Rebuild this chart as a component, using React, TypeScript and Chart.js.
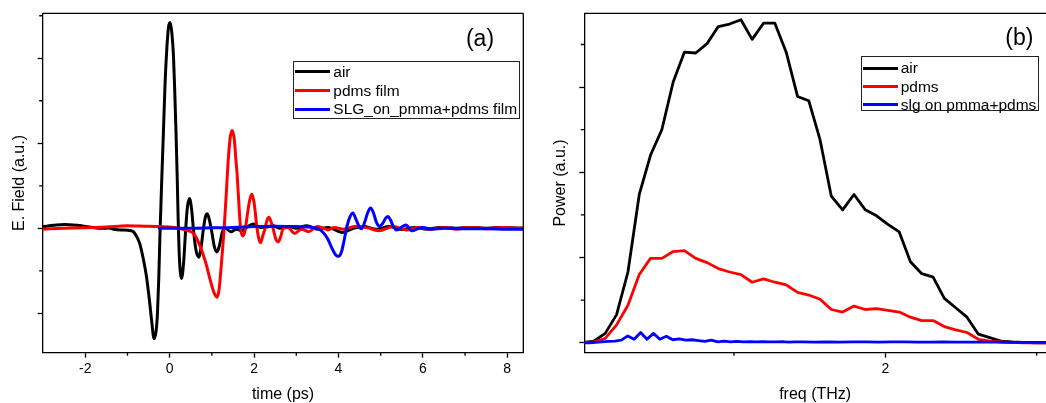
import React, { useEffect, useRef } from 'react';
import { Chart, registerables } from 'chart.js';

Chart.register(...registerables);

const FONT = '"Liberation Sans", Arial, Helvetica, sans-serif';

// ---------- Panel (a): time-domain field ----------
const timeAir = [
  -3.0, -2.75, -2.5, -2.2, -1.9, -1.6, -1.45, -1.3, -1.1, -0.95, -0.85, -0.78, -0.71, -0.63, -0.55,
  -0.48, -0.43, -0.37, -0.32, -0.29, -0.26, -0.23, -0.19, -0.15, -0.11, -0.07, -0.03, 0.01, 0.05,
  0.09, 0.12, 0.15, 0.18, 0.2, 0.23, 0.28, 0.33, 0.38, 0.42, 0.47, 0.52, 0.56, 0.62, 0.69, 0.75,
  0.8, 0.85, 0.89, 0.94, 1.0, 1.06, 1.12, 1.18, 1.25, 1.32, 1.45, 1.58, 1.7, 1.85, 1.99, 2.15, 2.3,
  2.45, 2.6, 2.8, 3.0, 3.25, 3.5, 3.75, 4.1, 4.35, 4.6, 4.9, 5.2, 5.5, 5.8, 6.1, 6.4, 6.8, 7.1, 7.5,
  7.9, 8.4,
];
const fieldAir = [
  0.02, 0.035, 0.045, 0.035, 0.015, 0.0, 0.003, -0.015, -0.02, -0.025, -0.045, -0.1, -0.18, -0.35,
  -0.57, -0.85, -1.08, -1.3, -1.2, -1.0, -0.6, -0.06, 0.55, 1.12, 1.7, 2.1, 2.36, 2.42, 2.3, 2.02,
  1.6, 1.12, 0.55, 0.12, -0.35, -0.59, -0.4, 0.0, 0.25, 0.35, 0.22, 0.0, -0.25, -0.34, -0.2, 0.0,
  0.14, 0.17, 0.1, -0.05, -0.22, -0.28, -0.2, -0.04, 0.0, -0.04, -0.01, -0.03, 0.02, 0.05, 0.01,
  0.015, 0.03, 0.0, 0.02, 0.0, 0.03, -0.01, 0.01, -0.05, 0.0, 0.02, -0.01, 0.02, -0.015, 0.01,
  -0.01, 0.01, 0.0, 0.01, 0.0, 0.01, 0.0,
];

const timePdms = [
  -3.0, -2.5, -2.0, -1.5, -1.0, -0.6, -0.23, 0.1, 0.3, 0.45, 0.56, 0.64, 0.72, 0.8, 0.88, 0.95, 1.0,
  1.06, 1.12, 1.17, 1.22, 1.26, 1.29, 1.34, 1.38, 1.43, 1.48, 1.53, 1.57, 1.6, 1.64, 1.68, 1.73,
  1.78, 1.84, 1.9, 1.95, 2.0, 2.07, 2.11, 2.15, 2.2, 2.26, 2.31, 2.35, 2.4, 2.45, 2.51, 2.57, 2.63,
  2.69, 2.8, 2.96, 3.12, 3.29, 3.5, 3.65, 3.75, 3.9, 4.1, 4.4, 4.7, 4.96, 5.3, 5.62, 5.9, 6.2, 6.5,
  6.8, 7.1, 7.5, 7.9, 8.2, 8.4,
];
const fieldPdms = [
  -0.01, 0.0, 0.005, 0.015, 0.03, 0.025, 0.02, 0.01, -0.01, -0.03, -0.06, -0.12, -0.21, -0.32,
  -0.45, -0.59, -0.68, -0.77, -0.81, -0.72, -0.45, -0.2, 0.0, 0.4, 0.75, 1.05, 1.15, 1.05, 0.8,
  0.62, 0.28, 0.0, -0.09, -0.04, 0.16, 0.34, 0.4, 0.3, 0.0, -0.12, -0.17, -0.1, 0.0, 0.1, 0.13,
  0.08, 0.0, -0.12, -0.16, -0.1, 0.0, 0.01, -0.06, -0.01, -0.04, 0.02, 0.0, -0.02, 0.01, -0.01,
  0.02, 0.005, -0.03, 0.02, -0.02, 0.01, -0.01, 0.01, -0.01, 0.01, -0.005, 0.01, 0.0, 0.005,
];

const timeSlg = [
  -0.25, 0.5, 1.0, 1.5, 2.0, 2.5, 3.0, 3.3, 3.5, 3.62, 3.74, 3.86, 3.93, 4.0, 4.07, 4.13, 4.19,
  4.26, 4.34, 4.42, 4.5, 4.55, 4.62, 4.69, 4.76, 4.83, 4.9, 4.97, 5.05, 5.12, 5.17, 5.23, 5.3,
  5.37, 5.45, 5.6, 5.74, 5.9, 5.99, 6.19, 6.5, 7.0, 7.5, 8.0, 8.4,
];
const fieldSlg = [
  0.0, 0.0, 0.005, 0.01, 0.02, 0.025, 0.02, 0.015, 0.0, -0.04, -0.12, -0.25, -0.31, -0.33, -0.28,
  -0.15, 0.0, 0.12, 0.18, 0.1, 0.01, -0.005, 0.07, 0.18, 0.24, 0.18, 0.07, 0.025, 0.06, 0.12,
  0.14, 0.1, 0.02, -0.02, 0.0, 0.04, -0.03, 0.0, 0.01, -0.01, 0.0, -0.005, -0.005, -0.01, -0.01,
];

const timeMajorTicks = [-2, 0, 2, 4, 6, 8];
const timeMinorTicks = [-1, 1, 3, 5, 7];
const fieldMajorTicks = [-1, 0, 1, 2];
const fieldMinorTicks = [-0.5, 0.5, 1.5, 2.5];

// ---------- Panel (b): power spectra ----------
const freq = [
  0, 0.075, 0.149, 0.224, 0.299, 0.374, 0.448, 0.523, 0.598, 0.672, 0.747, 0.822, 0.896, 0.971,
  1.046, 1.12, 1.195, 1.27, 1.345, 1.42, 1.494, 1.569, 1.643, 1.718, 1.793, 1.868, 1.942, 2.017,
  2.092, 2.166, 2.241, 2.316, 2.39, 2.465, 2.54, 2.615, 2.69, 2.764, 2.839, 2.914, 2.988, 3.063,
];
const powerAir = [
  0, 0.02, 0.11, 0.33, 0.83, 1.74, 2.2, 2.5, 3.06, 3.41, 3.4, 3.51, 3.71, 3.74, 3.79, 3.56, 3.75,
  3.75, 3.41, 2.89, 2.84, 2.38, 1.72, 1.56, 1.74, 1.56, 1.49, 1.39, 1.3, 0.95, 0.81, 0.77, 0.52,
  0.41, 0.3, 0.1, 0.06, 0.02, 0.01, 0.005, 0, 0,
];
const powerPdms = [
  0, 0.01, 0.05, 0.21, 0.44, 0.8, 0.99, 0.99, 1.07, 1.08, 0.99, 0.94, 0.87, 0.83, 0.8, 0.71, 0.75,
  0.71, 0.68, 0.59, 0.56, 0.51, 0.39, 0.36, 0.43, 0.39, 0.4, 0.38, 0.36, 0.3, 0.26, 0.26, 0.19,
  0.15, 0.12, 0.04, 0.02, 0.01, 0.005, 0, 0, 0,
];
const freqSlg = [
  0, 0.043, 0.085, 0.128, 0.17, 0.213, 0.255, 0.298, 0.34, 0.383, 0.425, 0.468, 0.51, 0.553, 0.595,
  0.638, 0.68, 0.723, 0.765, 0.808, 0.85, 0.893, 0.935, 0.978, 1.02, 1.063, 1.105, 1.148, 1.19,
  1.233, 1.275, 1.318, 1.36, 1.403, 1.445, 1.53, 1.615, 1.7, 1.785, 1.87, 1.955, 2.04, 2.125, 2.21,
  2.295, 2.38, 2.465, 2.55, 2.635, 2.72, 2.805, 2.89, 2.975, 3.06,
];
const powerSlg = [
  0, 0, 0.005, 0.01, 0.015, 0.02, 0.03, 0.08, 0.04, 0.12, 0.04, 0.11, 0.04, 0.075, 0.035, 0.045,
  0.03, 0.035, 0.025, 0.015, 0.03, 0.01, 0.02, 0.01, 0.015, 0.01, 0.012, 0.01, 0.012, 0.01, 0.01,
  0.012, 0.008, 0.01, 0.01, 0.008, 0.01, 0.008, 0.01, 0.01, 0.008, 0.01, 0.01, 0.008, 0.008, 0.01,
  0.008, 0.008, 0.006, 0.006, 0.005, 0.005, 0.004, 0.004,
];

const freqMajorTicks = [2];
const freqMinorTicks = [1, 3];
const powerMajorTicks = [0, 1, 2, 3];
const powerMinorTicks = [0.5, 1.5, 2.5, 3.5];

const legendA = ['air', 'pdms film', 'SLG_on_pmma+pdms film'];
const legendB = ['air', 'pdms', 'slg on pmma+pdms'];
const seriesColors = ['#000000', '#ff0000', '#0000ff'];

const zip = (xs: number[], ys: number[]) =>
  xs.slice(0, Math.min(xs.length, ys.length)).map((x, i) => ({ x, y: ys[i] }));

const framePlugin = {
  id: 'frame',
  afterDraw(chart: any, _args: any, opts: any) {
    const { ctx, chartArea: a } = chart;
    const xs = chart.scales.x;
    const ys = chart.scales.y;
    ctx.save();
    ctx.strokeStyle = '#000';
    ctx.lineWidth = 1.3;
    ctx.beginPath();
    ctx.moveTo(a.left, a.top);
    ctx.lineTo(a.right, a.top);
    if (opts.right) {
      ctx.moveTo(a.right, a.top);
      ctx.lineTo(a.right, a.bottom);
    }
    for (const v of opts.xMinor || []) {
      const px = xs.getPixelForValue(v);
      ctx.moveTo(px, a.bottom);
      ctx.lineTo(px, a.bottom + 3);
    }
    for (const v of opts.yMinor || []) {
      const py = ys.getPixelForValue(v);
      ctx.moveTo(a.left, py);
      ctx.lineTo(a.left - 3.5, py);
    }
    ctx.stroke();
    ctx.restore();
  },
};

function axisCommon() {
  return {
    grid: { drawOnChartArea: false, drawTicks: true, tickLength: 5, tickWidth: 1.3, tickColor: '#000' },
    border: { display: true, color: '#000', width: 1.3 },
  };
}

function makeConfig(p: {
  datasets: any[];
  xMin: number; xMax: number; yMin: number; yMax: number;
  xMajor: number[]; xMinor: number[]; yMajor: number[]; yMinor: number[];
  xTitle: string; yTitle: string; yWidth: number; yTitlePad: number; padRight: number; right: boolean;
}): any {
  return {
    type: 'line',
    data: { datasets: p.datasets },
    plugins: [framePlugin],
    options: {
      responsive: false,
      animation: false,
      devicePixelRatio: 1,
      layout: { padding: { left: 0, right: p.padRight, top: 13.3, bottom: 0 } },
      elements: { point: { radius: 0 } },
      plugins: {
        legend: { display: false },
        tooltip: { enabled: false },
        frame: { right: p.right, xMinor: p.xMinor, yMinor: p.yMinor },
      },
      scales: {
        x: {
          type: 'linear',
          min: p.xMin,
          max: p.xMax,
          ...axisCommon(),
          afterBuildTicks: (s: any) => { s.ticks = p.xMajor.map((v) => ({ value: v })); },
          afterFit: (s: any) => { s.height = 50.3; },
          ticks: {
            color: '#000', font: { size: 14, family: FONT, lineHeight: 1.2 }, padding: 3,
            maxRotation: 0, autoSkip: false, callback: (v: any) => String(v),
          },
          title: {
            display: true, text: p.xTitle, color: '#000',
            font: { size: 16, family: FONT, lineHeight: 1 }, padding: { top: 0, bottom: 0 },
          },
        },
        y: {
          type: 'linear',
          min: p.yMin,
          max: p.yMax,
          ...axisCommon(),
          afterBuildTicks: (s: any) => { s.ticks = p.yMajor.map((v) => ({ value: v })); },
          afterFit: (s: any) => { s.width = p.yWidth; },
          ticks: { display: false },
          title: {
            display: true, text: p.yTitle, color: '#000',
            font: { size: 16, family: FONT, lineHeight: 1 }, padding: { top: p.yTitlePad, bottom: 0 },
          },
        },
      },
    },
  };
}

function lineDs(label: string, data: any[], color: string, order: number, width: number, smooth: boolean) {
  return {
    label,
    data,
    borderColor: color,
    backgroundColor: color,
    borderWidth: width,
    pointRadius: 0,
    fill: false,
    order,
    borderJoinStyle: 'round',
    borderCapStyle: 'round',
    cubicInterpolationMode: smooth ? 'monotone' : 'default',
    tension: 0,
  };
}

function Legend(props: { left: number; top: number; width: number; height: number; rows: number[]; labels: string[] }) {
  return (
    <div
      style={{
        position: 'absolute', left: props.left, top: props.top, width: props.width, height: props.height,
        border: '1px solid #222', boxSizing: 'border-box', background: '#fff',
      }}
    >
      {props.labels.map((lab, i) => (
        <React.Fragment key={lab}>
          <div
            style={{
              position: 'absolute', left: 1, top: props.rows[i] - 1.5, width: 35, height: 3,
              background: seriesColors[i],
            }}
          />
          <div
            style={{
              position: 'absolute', left: 39, top: props.rows[i] - 10, height: 19, lineHeight: '19px',
              fontFamily: FONT, fontSize: 15.5, color: '#000', whiteSpace: 'nowrap',
            }}
          >
            {lab}
          </div>
        </React.Fragment>
      ))}
    </div>
  );
}

export default function App() {
  const leftRef = useRef<HTMLCanvasElement>(null);
  const rightRef = useRef<HTMLCanvasElement>(null);

  useEffect(() => {
    const left = new Chart(
      leftRef.current as HTMLCanvasElement,
      makeConfig({
        datasets: [
          lineDs(legendA[0], zip(timeAir, fieldAir), seriesColors[0], 2, 3, true),
          lineDs(legendA[1], zip(timePdms, fieldPdms), seriesColors[1], 1, 3, true),
          lineDs(legendA[2], zip(timeSlg, fieldSlg), seriesColors[2], 0, 3, true),
        ],
        xMin: -3.01, xMax: 8.38, yMin: -1.4635, yMax: 2.529,
        xMajor: timeMajorTicks, xMinor: timeMinorTicks, yMajor: fieldMajorTicks, yMinor: fieldMinorTicks,
        xTitle: 'time (ps)', yTitle: 'E. Field (a.u.)', yWidth: 42.7, yTitlePad: 12, padRight: 530 - 523.3, right: true,
      })
    );
    const right = new Chart(
      rightRef.current as HTMLCanvasElement,
      makeConfig({
        datasets: [
          lineDs(legendB[0], zip(freq, powerAir), seriesColors[0], 2, 2.8, false),
          lineDs(legendB[1], zip(freq, powerPdms), seriesColors[1], 1, 2.8, false),
          lineDs(legendB[2], zip(freqSlg, powerSlg), seriesColors[2], 0, 2.8, false),
        ],
        xMin: 0.0106, xMax: 3.062, yMin: -0.117, yMax: 3.866,
        xMajor: freqMajorTicks, xMinor: freqMinorTicks, yMajor: powerMajorTicks, yMinor: powerMinorTicks,
        xTitle: 'freq (THz)', yTitle: 'Power (a.u.)', yWidth: 54.3, yTitlePad: 22.8, padRight: 0, right: false,
      })
    );
    return () => {
      left.destroy();
      right.destroy();
    };
  }, []);

  return (
    <div
      style={{
        position: 'absolute', left: 0, top: 0, width: 1046, height: 403, overflow: 'hidden', background: '#fff',
      }}
    >
      <canvas ref={leftRef} width={530} height={403} style={{ position: 'absolute', left: 0, top: 0 }} />
      <canvas ref={rightRef} width={516} height={403} style={{ position: 'absolute', left: 530, top: 0 }} />
      <div
        style={{
          position: 'absolute', left: 440, top: 26.5, width: 80, textAlign: 'center', lineHeight: '23px',
          fontFamily: FONT, fontSize: 23, color: '#000',
        }}
      >
        (a)
      </div>
      <div
        style={{
          position: 'absolute', left: 979.3, top: 26, width: 80, textAlign: 'center', lineHeight: '23px',
          fontFamily: FONT, fontSize: 23, color: '#000',
        }}
      >
        (b)
      </div>
      <Legend left={293.3} top={60.7} width={226.7} height={58.6} rows={[10.3, 29.3, 47.6]} labels={legendA} />
      <Legend left={860.7} top={56} width={178.6} height={55} rows={[11, 29.5, 47.5]} labels={legendB} />
    </div>
  );
}
